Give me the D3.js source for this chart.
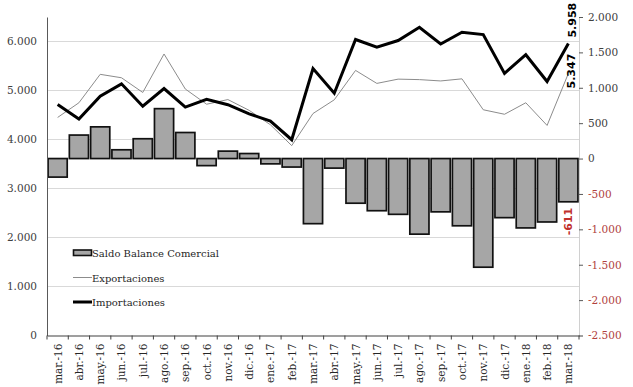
<!DOCTYPE html>
<html>
<head>
<meta charset="utf-8">
<script src="https://cdn.jsdelivr.net/npm/d3@7/dist/d3.min.js"></script>
<style>
  html, body { margin: 0; padding: 0; background: #fff; }
  svg { display: block; }
  text { font-family: "DejaVu Serif", serif; }
  text.endlabel { font-family: "DejaVu Sans", sans-serif; font-weight: bold; }
</style>
</head>
<body>
<svg id="chart" width="633" height="387"></svg>
<script>
// Monthly trade figures (millions), March 2016 – March 2018
const months = ["mar.-16","abr.-16","may.-16","jun.-16","jul.-16","ago.-16","sep.-16","oct.-16","nov.-16","dic.-16","ene.-17","feb.-17",
                "mar.-17","abr.-17","may.-17","jun.-17","jul.-17","ago.-17","sep.-17","oct.-17","nov.-17","dic.-17","ene.-18","feb.-18","mar.-18"];
const exportaciones = [4450, 4750, 5330, 5260, 4960, 5745, 5030, 4720, 4815, 4595, 4300, 3875,
                       4530, 4810, 5410, 5145, 5232, 5222, 5195, 5238, 4607, 4515, 4750, 4287, 5347];
const importaciones = [4712, 4418, 4882, 5136, 4680, 5040, 4662, 4820, 4710, 4524, 4375, 3995,
                       5450, 4945, 6041, 5882, 6020, 6290, 5948, 6188, 6142, 5350, 5730, 5183, 5958];
const saldo = [-262, 332, 448, 124, 280, 705, 368, -100, 105, 71, -75, -120,
               -920, -135, -631, -737, -788, -1068, -753, -950, -1535, -835, -980, -896, -611];
const leftTicks = [0, 1000, 2000, 3000, 4000, 5000, 6000];
const rightTicks = [-2500, -2000, -1500, -1000, -500, 0, 500, 1000, 1500, 2000];

const svg = d3.select("#chart");
const m = { left: 47, right: 579, top: 17, bottom: 335.5 };

const x = d3.scaleBand().domain(months).range([m.left, m.right]).paddingInner(0.1).paddingOuter(0.05);
const yL = d3.scaleLinear().domain([0, 6500]).range([m.bottom, m.top]);
const yR = d3.scaleLinear().domain([-2500, 2000]).range([m.bottom, m.top]);
const fmt = d3.formatLocale({ decimal: ",", thousands: ".", grouping: [3], currency: ["", ""], minus: "-" }).format(",d");

// horizontal gridlines on the left scale
svg.append("g").selectAll("line").data(leftTicks.filter(d => d > 0)).join("line")
  .attr("x1", m.left).attr("x2", m.right)
  .attr("y1", d => yL(d)).attr("y2", d => yL(d))
  .attr("stroke", "#d9d9d9").attr("stroke-width", 1);

// balance bars against the right scale
svg.append("g").selectAll("rect").data(saldo).join("rect")
  .attr("x", (d, i) => x(months[i]))
  .attr("width", x.bandwidth())
  .attr("y", d => yR(Math.max(0, d)))
  .attr("height", d => Math.abs(yR(d) - yR(0)))
  .attr("fill", "#a6a6a6").attr("stroke", "#111").attr("stroke-width", 1.7);

// export and import lines against the left scale
const line = d3.line().x((d, i) => x(months[i]) + x.bandwidth() / 2).y(d => yL(d));
svg.append("path").datum(exportaciones).attr("d", line)
  .attr("fill", "none").attr("stroke", "#8c8c8c").attr("stroke-width", 1);
svg.append("path").datum(importaciones).attr("d", line)
  .attr("fill", "none").attr("stroke", "#000").attr("stroke-width", 3).attr("stroke-linejoin", "miter");

// left axis
const gL = svg.append("g").attr("transform", `translate(${m.left},0)`)
  .call(d3.axisLeft(yL).tickValues(leftTicks).tickFormat(fmt).tickSize(0).tickPadding(10));
gL.select(".domain").attr("stroke", "#595959");
gL.selectAll("text").attr("font-size", 10.5).attr("fill", "#404040");

// right axis
const gR = svg.append("g").attr("transform", `translate(${m.right},0)`)
  .call(d3.axisRight(yR).tickValues(rightTicks).tickFormat(fmt).tickSize(4).tickPadding(5));
gR.select(".domain").attr("stroke", "#d0d0d0");
gR.selectAll(".tick line").attr("stroke", "#595959");
gR.selectAll("text").attr("font-size", 10.5).attr("fill", d => d < 0 ? "#b0413e" : "#404040");

// bottom axis with month labels
const gB = svg.append("g").attr("transform", `translate(0,${m.bottom})`)
  .call(d3.axisBottom(x).tickSize(0).tickPadding(0));
gB.select(".domain").attr("stroke", "#404040").attr("stroke-width", 1.2);
gB.selectAll("text")
  .attr("font-size", 10.5).attr("fill", "#262626")
  .attr("text-anchor", "end")
  .attr("transform", "translate(4,8) rotate(-90)")
  .attr("dy", 0).attr("x", 0).attr("y", 0);
svg.append("g").selectAll("line").data(d3.range(months.length + 1)).join("line")
  .attr("x1", i => m.left + i * (m.right - m.left) / months.length)
  .attr("x2", i => m.left + i * (m.right - m.left) / months.length)
  .attr("y1", m.bottom).attr("y2", m.bottom + 4)
  .attr("stroke", "#404040");

// end-of-series value labels
const last = months.length - 1;
const cx = x(months[last]) + x.bandwidth() / 2;
svg.append("text").attr("class", "endlabel").text(fmt(importaciones[last]))
  .attr("transform", `translate(${cx + 8},${yL(importaciones[last]) - 6}) rotate(-90)`)
  .attr("font-size", 11).attr("fill", "#000");
svg.append("text").attr("class", "endlabel").text(fmt(exportaciones[last]))
  .attr("transform", `translate(${cx + 7},${yL(exportaciones[last]) + 15}) rotate(-90)`)
  .attr("font-size", 11).attr("fill", "#000");
svg.append("text").attr("class", "endlabel").text(fmt(saldo[last]))
  .attr("text-anchor", "end")
  .attr("transform", `translate(${cx + 4},${yR(saldo[last]) + 6}) rotate(-90)`)
  .attr("font-size", 11).attr("fill", "#c0302c");

// legend
const lg = svg.append("g");
lg.append("rect").attr("x", 73.5).attr("y", 250).attr("width", 18).attr("height", 5.5)
  .attr("fill", "#a6a6a6").attr("stroke", "#111").attr("stroke-width", 1.6);
lg.append("line").attr("x1", 73).attr("x2", 92).attr("y1", 277.5).attr("y2", 277.5)
  .attr("stroke", "#8c8c8c").attr("stroke-width", 1);
lg.append("line").attr("x1", 73).attr("x2", 92).attr("y1", 302).attr("y2", 302)
  .attr("stroke", "#000").attr("stroke-width", 3);
const legendText = ["Saldo Balance Comercial", "Exportaciones", "Importaciones"];
lg.selectAll("text").data(legendText).join("text")
  .attr("x", 92).attr("y", (d, i) => [256.5, 281.5, 306][i])
  .attr("font-size", 10).attr("fill", "#262626").text(d => d);
</script>
</body>
</html>
